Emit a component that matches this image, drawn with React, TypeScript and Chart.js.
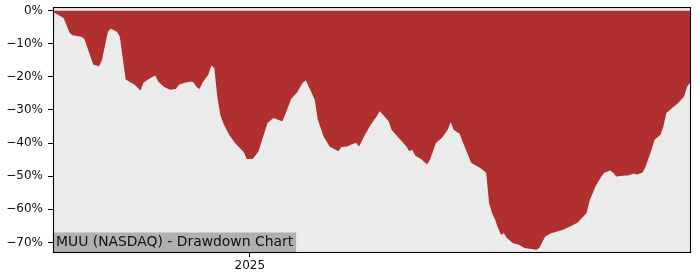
import React, { useEffect, useRef } from "react";
import { Chart, registerables } from "chart.js";

Chart.register(...registerables);

// Day offsets relative to 2025-01-01
const days = [
  -67, -66, -63, -61, -60, -57, -56, -53, -51, -50, -48, -47, -45, -44, -42, -39, -37, -36, -34, -32,
  -31, -29, -27, -25, -24, -22, -20, -19, -18, -17, -16, -14, -13, -12, -11, -10, -9, -7, -5, -2,
  -1, 1, 3, 4, 6, 8, 10, 11, 12, 14, 16, 18, 19, 20, 22, 23, 25, 26, 27, 30,
  31, 33, 35, 36, 37, 39, 41, 43, 44, 45, 47, 48, 49, 51, 53, 54, 55, 56, 58, 60,
  61, 63, 65, 67, 68, 69, 71, 72, 75, 78, 80, 81, 82, 83, 84, 85, 86, 87, 89, 91,
  93, 97, 98, 100, 102, 105, 106, 109, 111, 114, 115, 117, 119, 120, 122, 123, 124, 127, 128, 130,
  131, 133, 134, 136, 137, 139, 140, 141, 143, 145, 147, 148, 149,
];

// Drawdown in percent
const drawdown = [
  -0.2, -0.7, -2.2, -6.7, -7.4, -7.9, -8.5, -16.3, -16.8, -14.8, -6.3, -5.5, -6.4, -7.8, -20.8, -22.4, -24.1, -21.8, -20.6, -19.6,
  -21.4, -23.1, -23.9, -23.7, -22.4, -21.8, -21.4, -21.7, -23.1, -23.7, -21.8, -19.3, -16.6, -17.3, -25.9, -31.4, -33.9, -37.5, -40.0, -42.8,
  -44.8, -44.8, -42.5, -39.5, -33.9, -32.4, -33.1, -33.4, -31.4, -26.7, -24.7, -21.7, -21.1, -23.1, -26.9, -32.9, -38.0, -39.5, -41.0, -42.5,
  -41.2, -41.0, -40.2, -40.0, -41.0, -37.5, -34.4, -31.9, -30.4, -31.4, -33.4, -36.0, -37.0, -39.0, -41.0, -42.5, -42.0, -43.8, -44.8, -46.5,
  -45.0, -40.0, -38.5, -36.0, -33.7, -36.0, -37.2, -39.5, -46.0, -47.5, -49.0, -58.1, -61.1, -63.1, -65.6, -67.7, -67.2, -68.7, -70.2, -70.7,
  -71.7, -72.2, -71.7, -68.2, -67.2, -66.5, -66.2, -65.0, -64.0, -61.1, -57.4, -53.1, -50.1, -49.0, -48.3, -49.0, -50.1, -49.8, -49.8, -49.2,
  -49.5, -48.9, -47.0, -42.0, -39.0, -37.5, -35.0, -30.9, -29.4, -27.9, -25.9, -23.1, -21.8,
];

const yTickValues = [0, -10, -20, -30, -40, -50, -60, -70];
const xTickDays = [0];
const xTickLabels = ["2025"];
const chartTitle = "MUU (NASDAQ) - Drawdown Chart";

const FONT = "DejaVu Sans";

export default function App() {
  const ref = useRef<HTMLCanvasElement | null>(null);

  useEffect(() => {
    if (!ref.current) return;

    const bgPlugin = {
      id: "bgFrame",
      beforeDatasetsDraw(chart: any) {
        const { ctx, chartArea } = chart;
        ctx.save();
        ctx.fillStyle = "#ebebeb";
        ctx.fillRect(chartArea.left, chartArea.top, chartArea.right - chartArea.left, chartArea.bottom - chartArea.top);
        ctx.restore();
      },
      afterDatasetsDraw(chart: any) {
        const { ctx, chartArea } = chart;
        ctx.save();
        // label box
        ctx.font = `13.9px "${FONT}"`;
        const w = ctx.measureText(chartTitle).width;
        const h = 19.5;
        ctx.fillStyle = "#b0b0b0";
        ctx.fillRect(chartArea.left, chartArea.bottom - h, w + 6, h);
        ctx.fillStyle = "#111";
        ctx.textBaseline = "middle";
        ctx.textAlign = "left";
        ctx.fillText(chartTitle, chartArea.left + 3, chartArea.bottom - h / 2);
        // frame
        ctx.strokeStyle = "#000";
        ctx.lineWidth = 1.1;
        ctx.strokeRect(
          Math.round(chartArea.left) + 0.5,
          Math.round(chartArea.top) + 0.5,
          Math.round(chartArea.right - chartArea.left),
          Math.round(chartArea.bottom - chartArea.top)
        );
        ctx.restore();
      },
    };

    const chart = new Chart(ref.current, {
      type: "line",
      data: {
        datasets: [
          {
            data: days.map((d, i) => ({ x: d, y: drawdown[i] })),
            fill: "origin",
            backgroundColor: "#b03030",
            borderColor: "#b03030",
            borderWidth: 0,
            pointRadius: 0,
            tension: 0,
          },
        ],
      },
      options: {
        animation: false,
        responsive: false,
        maintainAspectRatio: false,
        layout: { padding: { left: 0, right: 10, top: 7, bottom: 0 } },
        plugins: {
          legend: { display: false },
          tooltip: { enabled: false },
        },
        scales: {
          x: {
            type: "linear",
            min: days[0] + 0.4,
            max: days[days.length - 1],
            afterBuildTicks(scale: any) {
              scale.ticks = xTickDays.map((v) => ({ value: v }));
            },
            afterFit(scale: any) {
              scale.height = 28;
              scale.paddingLeft = 0;
              scale.paddingRight = 0;
            },
            border: { display: false },
            grid: {
              drawOnChartArea: false,
              drawTicks: true,
              tickLength: 5,
              color: "#000",
            },
            ticks: {
              autoSkip: false,
              maxRotation: 0,
              padding: 2,
              color: "#111",
              font: { family: FONT, size: 12 },
              callback(value: any) {
                const i = xTickDays.indexOf(Number(value));
                return i >= 0 ? xTickLabels[i] : "";
              },
            },
          },
          y: {
            type: "linear",
            min: -72.9,
            max: 1.1,
            afterBuildTicks(scale: any) {
              scale.ticks = yTickValues.map((v) => ({ value: v }));
            },
            afterFit(scale: any) {
              scale.width = 53;
              scale.paddingTop = 0;
              scale.paddingBottom = 0;
            },
            border: { display: false },
            grid: {
              drawOnChartArea: false,
              drawTicks: true,
              tickLength: 5,
              color: "#000",
            },
            ticks: {
              autoSkip: false,
              padding: 5,
              color: "#111",
              font: { family: FONT, size: 12 },
              callback(value: any) {
                const v = Number(value);
                return (v < 0 ? "\u2212" + Math.abs(v) : String(v)) + "%";
              },
            },
          },
        },
      },
      plugins: [bgPlugin],
    });

    return () => chart.destroy();
  }, []);

  return (
    <div style={{ position: "fixed", left: 0, top: 0, width: 700, height: 280, background: "#fff" }}>
      <canvas ref={ref} width={700} height={280} style={{ display: "block", width: 700, height: 280 }} />
    </div>
  );
}
